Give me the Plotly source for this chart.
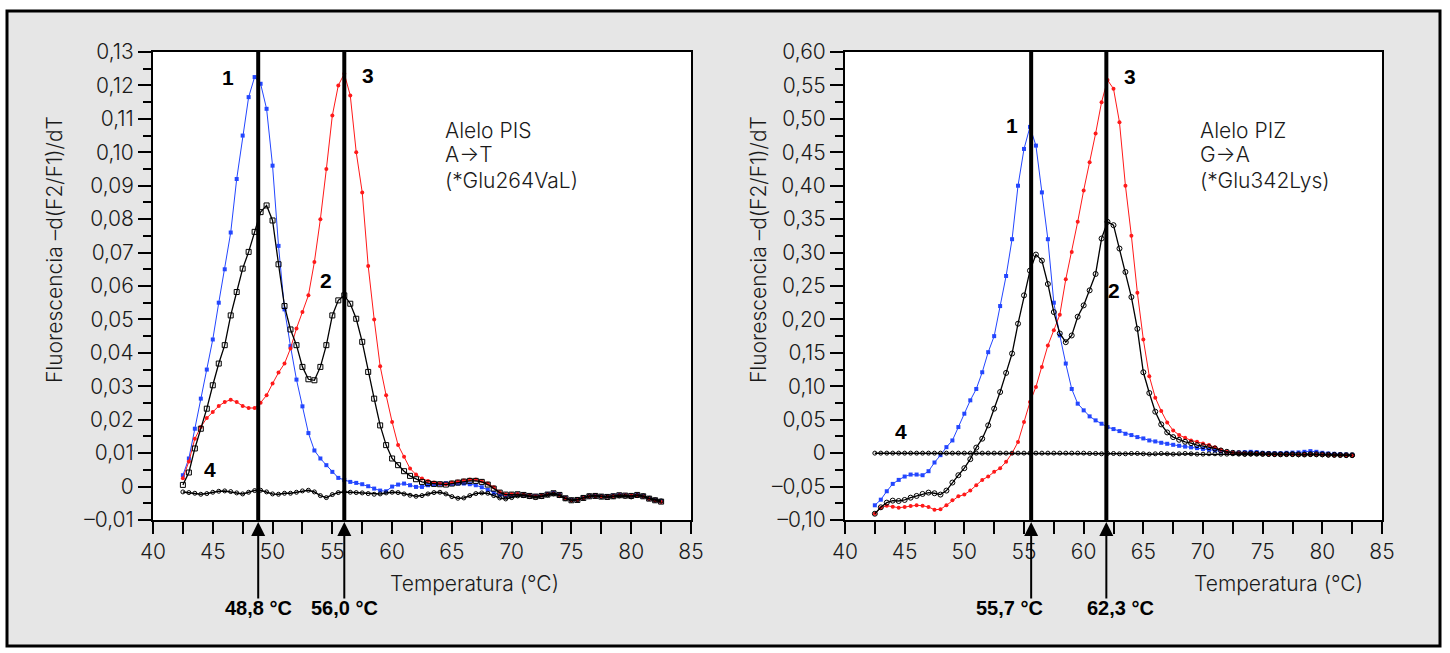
import plotly.graph_objects as go

# Temperatura (°C), common to both panels
temperatura = [
    42.5, 43.0, 43.5, 44.0, 44.5, 45.0, 45.5, 46.0, 46.5, 47.0,
    47.5, 48.0, 48.5, 49.0, 49.5, 50.0, 50.5, 51.0, 51.5, 52.0,
    52.5, 53.0, 53.5, 54.0, 54.5, 55.0, 55.5, 56.0, 56.5, 57.0,
    57.5, 58.0, 58.5, 59.0, 59.5, 60.0, 60.5, 61.0, 61.5, 62.0,
    62.5, 63.0, 63.5, 64.0, 64.5, 65.0, 65.5, 66.0, 66.5, 67.0,
    67.5, 68.0, 68.5, 69.0, 69.5, 70.0, 70.5, 71.0, 71.5, 72.0,
    72.5, 73.0, 73.5, 74.0, 74.5, 75.0, 75.5, 76.0, 76.5, 77.0,
    77.5, 78.0, 78.5, 79.0, 79.5, 80.0, 80.5, 81.0, 81.5, 82.0,
    82.5,
]

# ---- Alelo PIS (left panel) ----
pis_1 = [
    0.0034, 0.0084, 0.0173, 0.0263, 0.0350, 0.0440, 0.0550, 0.0650, 0.0760, 0.0920,
    0.1050, 0.1165, 0.1225, 0.1205, 0.1130, 0.0960, 0.0720, 0.0530, 0.0420, 0.0320,
    0.0240, 0.0160, 0.0108, 0.0084, 0.0064, 0.0044, 0.0026, 0.0020, 0.0014, 0.0011,
    0.0007, 0.0001, -0.0006, -0.0012, -0.0014, 0.0000, 0.0006, 0.0009, 0.0004, -0.0001,
    -0.0001, 0.0004, 0.0006, 0.0008, 0.0010, 0.0008, 0.0009, 0.0009, 0.0007, 0.0004,
    -0.0002, -0.0010, -0.0019, -0.0025, -0.0028, -0.0026, -0.0023, -0.0024, -0.0026, -0.0028,
    -0.0026, -0.0022, -0.0019, -0.0024, -0.0034, -0.0040, -0.0039, -0.0033, -0.0029, -0.0028,
    -0.0029, -0.0029, -0.0027, -0.0025, -0.0026, -0.0027, -0.0025, -0.0029, -0.0036, -0.0041,
    -0.0044,
]
pis_2 = [
    0.0005, 0.0042, 0.0114, 0.0173, 0.0233, 0.0303, 0.0368, 0.0423, 0.0512, 0.0582,
    0.0652, 0.0702, 0.0762, 0.0821, 0.0841, 0.0796, 0.0665, 0.0540, 0.0470, 0.0423,
    0.0358, 0.0321, 0.0318, 0.0358, 0.0423, 0.0512, 0.0557, 0.0572, 0.0547, 0.0502,
    0.0433, 0.0343, 0.0263, 0.0183, 0.0124, 0.0084, 0.0064, 0.0046, 0.0032, 0.0022,
    0.0014, 0.0010, 0.0008, 0.0007, 0.0006, 0.0009, 0.0012, 0.0015, 0.0017, 0.0017,
    0.0014, 0.0006, -0.0006, -0.0018, -0.0024, -0.0024, -0.0023, -0.0025, -0.0028, -0.0030,
    -0.0028, -0.0024, -0.0020, -0.0025, -0.0035, -0.0041, -0.0040, -0.0034, -0.0029, -0.0028,
    -0.0030, -0.0031, -0.0029, -0.0026, -0.0027, -0.0028, -0.0025, -0.0029, -0.0036, -0.0041,
    -0.0045,
]
pis_3 = [
    0.0025, 0.0075, 0.0143, 0.0178, 0.0205, 0.0223, 0.0241, 0.0253, 0.0260, 0.0253,
    0.0241, 0.0235, 0.0235, 0.0251, 0.0273, 0.0308, 0.0341, 0.0368, 0.0413, 0.0473,
    0.0522, 0.0572, 0.0672, 0.0800, 0.0950, 0.1110, 0.1200, 0.1235, 0.1170, 0.1000,
    0.0880, 0.0660, 0.0500, 0.0360, 0.0273, 0.0193, 0.0124, 0.0089, 0.0054, 0.0036,
    0.0024, 0.0017, 0.0012, 0.0009, 0.0007, 0.0012, 0.0015, 0.0018, 0.0021, 0.0021,
    0.0017, 0.0009, -0.0002, -0.0016, -0.0023, -0.0022, -0.0022, -0.0024, -0.0027, -0.0029,
    -0.0027, -0.0023, -0.0021, -0.0026, -0.0035, -0.0042, -0.0040, -0.0034, -0.0030, -0.0029,
    -0.0030, -0.0030, -0.0028, -0.0026, -0.0026, -0.0027, -0.0026, -0.0030, -0.0037, -0.0042,
    -0.0046,
]
pis_4 = [
    -0.0016, -0.0018, -0.0020, -0.0023, -0.0021, -0.0017, -0.0014, -0.0013, -0.0015, -0.0019,
    -0.0022, -0.0017, -0.0012, -0.0011, -0.0016, -0.0022, -0.0023, -0.0020, -0.0020, -0.0017,
    -0.0013, -0.0011, -0.0016, -0.0027, -0.0033, -0.0024, -0.0018, -0.0016, -0.0017, -0.0018,
    -0.0019, -0.0021, -0.0023, -0.0022, -0.0019, -0.0017, -0.0018, -0.0022, -0.0026, -0.0029,
    -0.0027, -0.0022, -0.0018, -0.0017, -0.0022, -0.0030, -0.0035, -0.0034, -0.0027, -0.0021,
    -0.0019, -0.0020, -0.0027, -0.0034, -0.0037, -0.0033, -0.0028, -0.0027, -0.0030, -0.0033,
    -0.0030, -0.0025, -0.0022, -0.0027, -0.0036, -0.0040, -0.0039, -0.0033, -0.0028, -0.0027,
    -0.0030, -0.0032, -0.0030, -0.0028, -0.0029, -0.0031, -0.0027, -0.0028, -0.0035, -0.0040,
    -0.0043,
]

# ---- Alelo PIZ (right panel) ----
piz_1 = [
    -0.0780, -0.0696, -0.0570, -0.0460, -0.0400, -0.0350, -0.0320, -0.0320, -0.0330, -0.0270,
    -0.0140, -0.0030, 0.0090, 0.0190, 0.0390, 0.0590, 0.0790, 0.0960, 0.1210, 0.1510,
    0.1750, 0.2200, 0.2650, 0.3200, 0.4000, 0.4550, 0.4880, 0.4600, 0.3900, 0.3200,
    0.2250, 0.1760, 0.1340, 0.0960, 0.0740, 0.0640, 0.0550, 0.0490, 0.0440, 0.0390,
    0.0360, 0.0330, 0.0290, 0.0270, 0.0240, 0.0220, 0.0190, 0.0175, 0.0155, 0.0140,
    0.0125, 0.0110, 0.0098, 0.0087, 0.0075, 0.0063, 0.0050, 0.0040, 0.0025, 0.0012,
    0.0005, 0.0008, 0.0015, 0.0020, 0.0015, 0.0005, 0.0002, 0.0000, 0.0000, 0.0005,
    0.0008, 0.0010, 0.0020, 0.0030, 0.0020, 0.0005, -0.0005, -0.0010, -0.0015, -0.0020,
    -0.0025,
]
piz_2 = [
    -0.0906, -0.0810, -0.0740, -0.0710, -0.0716, -0.0700, -0.0666, -0.0640, -0.0610, -0.0590,
    -0.0600, -0.0620, -0.0560, -0.0440, -0.0330, -0.0225, -0.0090, 0.0083, 0.0216, 0.0416,
    0.0665, 0.0914, 0.1200, 0.1490, 0.1936, 0.2360, 0.2730, 0.2970, 0.2880, 0.2530,
    0.2110, 0.1790, 0.1660, 0.1760, 0.2040, 0.2210, 0.2435, 0.2680, 0.3210, 0.3460,
    0.3410, 0.3060, 0.2710, 0.2335, 0.1860, 0.1210, 0.0900, 0.0620, 0.0430, 0.0310,
    0.0240, 0.0200, 0.0170, 0.0150, 0.0120, 0.0105, 0.0090, 0.0070, 0.0040, 0.0020,
    0.0005, 0.0000, -0.0005, -0.0005, -0.0008, -0.0010, -0.0012, -0.0015, -0.0018, -0.0015,
    -0.0015, -0.0018, -0.0020, -0.0015, -0.0015, -0.0018, -0.0022, -0.0025, -0.0028, -0.0030,
    -0.0030,
]
piz_3 = [
    -0.0906, -0.0820, -0.0786, -0.0800, -0.0816, -0.0806, -0.0790, -0.0780, -0.0786, -0.0806,
    -0.0846, -0.0840, -0.0780, -0.0706, -0.0646, -0.0620, -0.0560, -0.0480, -0.0400, -0.0350,
    -0.0280, -0.0225, -0.0130, 0.0000, 0.0167, 0.0465, 0.0765, 0.0990, 0.1290, 0.1610,
    0.1840, 0.2070, 0.2600, 0.3010, 0.3460, 0.3930, 0.4350, 0.4780, 0.5250, 0.5580,
    0.5450, 0.4950, 0.4000, 0.3250, 0.2400, 0.1700, 0.1150, 0.0830, 0.0630, 0.0460,
    0.0340, 0.0270, 0.0230, 0.0190, 0.0170, 0.0145, 0.0120, 0.0090, 0.0050, 0.0020,
    0.0005, 0.0000, -0.0005, -0.0008, -0.0010, -0.0012, -0.0015, -0.0020, -0.0022, -0.0020,
    -0.0018, -0.0020, -0.0022, -0.0020, -0.0018, -0.0020, -0.0025, -0.0030, -0.0030, -0.0032,
    -0.0035,
]
piz_4 = [
    0.0000, 0.0000, 0.0000, 0.0000, 0.0000, 0.0000, 0.0000, 0.0000, 0.0000, 0.0000,
    0.0000, 0.0000, 0.0000, 0.0000, 0.0000, 0.0000, 0.0000, 0.0000, 0.0000, 0.0000,
    0.0000, 0.0000, 0.0000, 0.0000, 0.0000, 0.0000, 0.0000, 0.0000, 0.0000, 0.0000,
    0.0000, 0.0000, 0.0000, 0.0000, 0.0000, 0.0000, -0.0005, -0.0005, -0.0010, -0.0005,
    -0.0005, -0.0010, -0.0010, -0.0005, -0.0005, -0.0010, -0.0015, -0.0010, -0.0005, -0.0010,
    -0.0015, -0.0010, -0.0005, -0.0010, -0.0015, -0.0015, -0.0010, -0.0010, -0.0015, -0.0015,
    -0.0010, -0.0015, -0.0020, -0.0015, -0.0010, -0.0015, -0.0020, -0.0020, -0.0015, -0.0015,
    -0.0020, -0.0025, -0.0020, -0.0020, -0.0025, -0.0025, -0.0030, -0.0030, -0.0030, -0.0035,
    -0.0035,
]

# melting temperatures marked with vertical lines / arrows
pis_tm = [48.8, 56.0]
pis_tm_text = ["48,8 °C", "56,0 °C"]
piz_tm = [55.6, 61.9]
piz_tm_text = ["55,7 °C", "62,3 °C"]

x_ticks = [40, 45, 50, 55, 60, 65, 70, 75, 80, 85]
x_minor = [42.5, 47.5, 52.5, 57.5, 62.5, 67.5, 72.5, 77.5, 82.5]
pis_yticks = [-0.01, 0.0, 0.01, 0.02, 0.03, 0.04, 0.05, 0.06, 0.07, 0.08, 0.09, 0.10, 0.11, 0.12, 0.13]
pis_ylabels = ["–0,01", "0", "0,01", "0,02", "0,03", "0,04", "0,05", "0,06", "0,07",
               "0,08", "0,09", "0,10", "0,11", "0,12", "0,13"]
piz_yticks = [-0.10, -0.05, 0.0, 0.05, 0.10, 0.15, 0.20, 0.25, 0.30, 0.35, 0.40, 0.45, 0.50, 0.55, 0.60]
piz_ylabels = ["–0,10", "–0,05", "0", "0,05", "0,10", "0,15", "0,20", "0,25", "0,30",
               "0,35", "0,40", "0,45", "0,50", "0,55", "0,60"]

W, H = 1450, 653
BLUE = "rgb(35,70,255)"
RED = "rgb(255,25,25)"
TXT = "#1a1a1a"
LIGHT = "Inter"


def px_x(p):
    return p / W


def px_y(p):
    return 1 - p / H


fig = go.Figure()


def add_curves(ys, xa, ya, black_symbol):
    c1, c2, c3, c4 = ys
    fig.add_trace(go.Scatter(x=temperatura, y=c1, mode="lines+markers", xaxis=xa, yaxis=ya,
                             line=dict(color=BLUE, width=1),
                             marker=dict(symbol="square", size=4, color=BLUE)))
    fig.add_trace(go.Scatter(x=temperatura, y=c3, mode="lines+markers", xaxis=xa, yaxis=ya,
                             line=dict(color=RED, width=1),
                             marker=dict(symbol="circle", size=4, color=RED)))
    fig.add_trace(go.Scatter(x=temperatura, y=c2, mode="lines+markers", xaxis=xa, yaxis=ya,
                             line=dict(color="black", width=1.3),
                             marker=dict(symbol=black_symbol, size=5, color="black",
                                         line=dict(width=1, color="black"))))
    fig.add_trace(go.Scatter(x=temperatura, y=c4, mode="lines+markers", xaxis=xa, yaxis=ya,
                             line=dict(color="black", width=1.5),
                             marker=dict(symbol="circle-open", size=4, color="black",
                                         line=dict(width=1, color="black"))))


add_curves([pis_1, pis_2, pis_3, pis_4], "x", "y", "square-open")
add_curves([piz_1, piz_2, piz_3, piz_4], "x2", "y2", "circle-open")

tick_font = dict(family=LIGHT, size=21, color=TXT, weight=300)


def x_axis(domain, anchor):
    return dict(domain=domain, range=[40, 85], tickvals=x_ticks, ticktext=[str(t) for t in x_ticks],
                ticks="outside", ticklen=12, tickwidth=2, tickcolor="black",
                minor=dict(tickmode="array", tickvals=x_minor, ticks="outside", ticklen=12,
                           tickwidth=2, tickcolor="black"),
                showline=True, linewidth=2, linecolor="black", mirror=True, automargin=False,
                showgrid=False, zeroline=False, tickfont=tick_font, anchor=anchor)


def y_axis(rng, vals, labels, minor_vals, anchor):
    return dict(domain=[px_y(520), px_y(52)], range=rng, tickvals=vals, ticktext=labels,
                ticks="outside", ticklen=13, tickwidth=2, tickcolor="black",
                minor=dict(tickmode="array", tickvals=minor_vals, ticks="outside", ticklen=8,
                           tickwidth=2, tickcolor="black"),
                showline=True, linewidth=2, linecolor="black", mirror=True, automargin=False,
                showgrid=False, zeroline=False, tickfont=tick_font, anchor=anchor)


pis_minor = [v + 0.005 for v in pis_yticks[:-1]]
piz_minor = [v + 0.025 for v in piz_yticks[:-1]]

shapes = [
    # grey frame behind both panels
    dict(type="rect", xref="paper", yref="paper", x0=px_x(7), x1=px_x(1440), y0=px_y(646), y1=px_y(11),
         fillcolor="#e6e6e6", line=dict(color="black", width=3), layer="below"),
    # white plotting areas
    dict(type="rect", xref="x domain", yref="y domain", x0=0, x1=1, y0=0, y1=1,
         fillcolor="white", line=dict(width=0), layer="below"),
    dict(type="rect", xref="x2 domain", yref="y2 domain", x0=0, x1=1, y0=0, y1=1,
         fillcolor="white", line=dict(width=0), layer="below"),
]
annotations = []

for xa, tms, labels, label_x in [("x", pis_tm, pis_tm_text, pis_tm),
                                 ("x2", piz_tm, piz_tm_text, [53.75, 63.1])]:
    for tm, lab, lx in zip(tms, labels, label_x):
        shapes.append(dict(type="line", xref=xa, yref=xa.replace("x", "y") + " domain",
                           x0=tm, x1=tm, y0=0, y1=1, line=dict(color="black", width=4)))
        annotations.append(dict(x=tm, y=px_y(522), xref=xa, yref="paper", text="", showarrow=True,
                                ax=0, ay=78, arrowhead=2, arrowsize=1.4, arrowwidth=2, arrowcolor="black"))
        annotations.append(dict(x=lx, y=px_y(608), xref=xa, yref="paper", text="<b>%s</b>" % lab,
                                xanchor="center", yanchor="middle", showarrow=False,
                                font=dict(family="Liberation Sans", size=20, color="black")))

# curve numbers
num_font = dict(family="Liberation Sans", size=21, color="black")
for xa, ya, pts in [("x", "y", [("1", 46.25, 0.1225), ("2", 54.5, 0.0617), ("3", 58.0, 0.123), ("4", 44.8, 0.005)]),
                    ("x2", "y2", [("1", 53.97, 0.49), ("2", 62.5, 0.243), ("3", 63.9, 0.563), ("4", 44.7, 0.032)])]:
    for t, x, y in pts:
        annotations.append(dict(x=x, y=y, xref=xa, yref=ya, text="<b>%s</b>" % t, showarrow=False,
                                xanchor="center", yanchor="middle", font=num_font))

# allele notes
note_font = dict(family=LIGHT, size=21, color=TXT, weight=300)
for x0, lines in [(443, ["Alelo PIS", "A→T", "(*Glu264VaL)"]),
                  (1198, ["Alelo PIZ", "G→A", "(*Glu342Lys)"])]:
    for i, line in enumerate(lines):
        annotations.append(dict(x=px_x(x0), y=px_y(130 + 25 * i), xref="paper", yref="paper", text=line,
                                xanchor="left", yanchor="middle", showarrow=False, font=note_font))

# axis titles
title_font = dict(family=LIGHT, size=21, color=TXT, weight=300)
for cx in [54, 758]:
    annotations.append(dict(x=px_x(cx), y=px_y(250), xref="paper", yref="paper",
                            text="Fluorescencia –d(F2/F1)/dT", textangle=-90, showarrow=False,
                            xanchor="center", yanchor="middle", font=title_font))
for cx in [474, 1278]:
    annotations.append(dict(x=px_x(cx), y=px_y(583), xref="paper", yref="paper",
                            text="Temperatura (°C)", showarrow=False,
                            xanchor="center", yanchor="middle", font=title_font))

fig.update_layout(
    width=W, height=H, margin=dict(l=0, r=0, t=0, b=0, pad=0, autoexpand=False),
    paper_bgcolor="white", plot_bgcolor="white", showlegend=False,
    xaxis=x_axis([px_x(153), px_x(691)], "y"),
    xaxis2=x_axis([px_x(845), px_x(1382)], "y2"),
    yaxis=y_axis([-0.01, 0.13], pis_yticks, pis_ylabels, pis_minor, "x"),
    yaxis2=y_axis([-0.10, 0.60], piz_yticks, piz_ylabels, piz_minor, "x2"),
    shapes=shapes, annotations=annotations,
)

fig.write_html("out.html", config={"displayModeBar": False},
               post_script="document.body.style.margin='0';")
